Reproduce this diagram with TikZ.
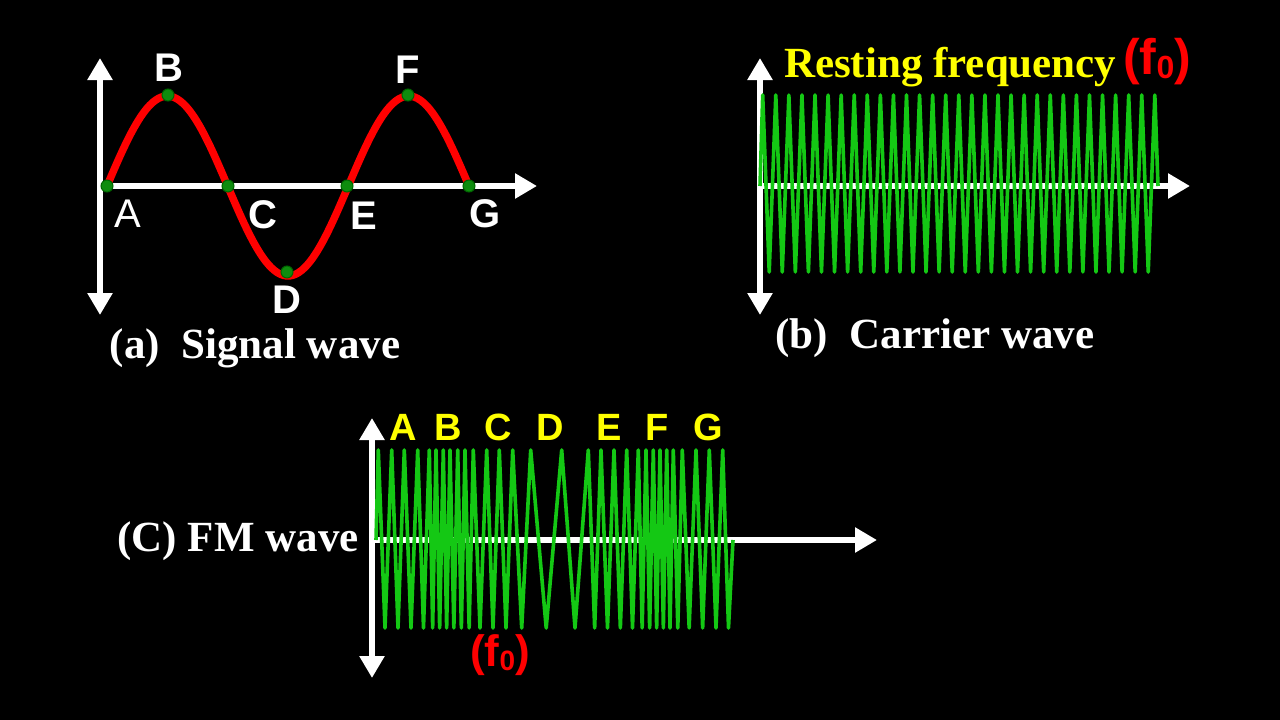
\documentclass[tikz,border=0pt]{standalone}
\usepackage{fontspec}
\setmainfont{Liberation Serif}
\setsansfont{Liberation Sans}
\usetikzlibrary{arrows.meta}
\definecolor{wgreen}{RGB}{20,200,20}
\definecolor{wyellow}{RGB}{255,255,0}
\definecolor{wred}{RGB}{255,0,0}
\begin{document}
\begin{tikzpicture}[x=1pt,y=-1pt,
  axis/.style={white,line width=5.5pt,-{Triangle[length=22pt,width=24pt]}},
  axis2/.style={white,line width=5.5pt,{Triangle[length=22pt,width=24pt]}-{Triangle[length=22pt,width=24pt]}},
  wave/.style={wgreen,line width=3.6pt,line join=round},
  pt/.style={circle,fill=wgreen!70!black,draw=black!60!green,line width=1pt,inner sep=0pt,minimum size=12pt},
  lab/.style={white,font=\sffamily\bfseries\fontsize{40}{40}\selectfont},
  flab/.style={wyellow,font=\sffamily\bfseries\fontsize{38}{38}\selectfont},
  captxt/.style={white,font=\bfseries\fontsize{43}{43}\selectfont},
  fo/.style={wred,font=\sffamily\bfseries\fontsize{50}{50}\selectfont}]
\fill[black] (0,0) rectangle (1280,720);
\useasboundingbox (0,0) rectangle (1280,720);
% (a) signal
\coordinate (aV1) at (100,315); \coordinate (aV2) at (100,58);
\coordinate (aO) at (100,186); \coordinate (aX) at (537,186);
\draw[axis2] (aV1) -- (aV2);
\draw[axis] (aO) -- (aX);
\draw[wred,line width=7.5pt,domain=107:469,samples=120,smooth] plot (\x,{186-90*sin(1.4919*(\x-107))});
\foreach \n/\x/\y in {A/107/186,B/168/95,C/228/186,D/287/272,E/347/186,F/408/95,G/469/186}
  \node[pt] (p\n) at (\x,\y) {};
\node[lab,font=\sffamily\fontsize{40}{40}\selectfont] (lA) at (128,214) {A};
\node[lab] (lB) at (169,68) {B};
\node[lab] (lC) at (263,215) {C};
\node[lab] (lD) at (287,300) {D};
\node[lab] (lE) at (364,216) {E};
\node[lab] (lF) at (408,70) {F};
\node[lab] (lG) at (485,214) {G};
\node[captxt] (capa) at (255,348) {(a)\enspace Signal wave};
% (b) carrier
\coordinate (bV1) at (760,315); \coordinate (bV2) at (760,58);
\coordinate (bO) at (760,186); \coordinate (bX) at (1190,186);
\draw[axis2] (bV1) -- (bV2);
\draw[axis] (bO) -- (bX);
\draw[wave] (760,186) -- (762.7,95) \foreach \k in {0,...,29}{ -- ({769.2+13.07*\k},272) -- ({775.8+13.07*\k},95)} -- (1158,186);
\node[wyellow,font=\bfseries\fontsize{43}{43}\selectfont,anchor=east] (rest) at (1120,67) {Resting frequency};
\node[fo,anchor=west,inner sep=1pt] (fb) at (1122,62) {(f\raisebox{-4pt}{\fontsize{32}{32}\selectfont 0})};
\node[captxt] (capb) at (935,338) {(b)\enspace Carrier wave};
% (C) FM
\coordinate (cV1) at (372,678); \coordinate (cV2) at (372,418);
\coordinate (cO) at (372,540); \coordinate (cX) at (877,540);
\draw[axis2] (cV1) -- (cV2);
\draw[axis] (cO) -- (cX);
\draw[wave] (376,540) -- (378.3,450)
  \foreach \p [remember=\p as \q (initially 378.3)] in {391.7,404.3,417.7,429.3,436,443.3,450,457.7,465,473.3,486.7,499.3,512.7,530.7,561.7,588.3,601,614,626.7,638.3,646,653.3,660,666.7,673.3,682.3,696,709.3,722.7}
  { -- ({(\p+\q)/2},628) -- (\p,450)} -- (728.5,628) -- (733,540);
\foreach \n/\x in {A/403,B/448,C/498,D/550,E/609,F/657,G/708}
  \node[flab] (f\n) at (\x,427) {\n};
\node[fo,font=\sffamily\bfseries\fontsize{44}{44}\selectfont] (fc) at (500,655) {(f\raisebox{-4pt}{\fontsize{28}{28}\selectfont 0})};
\node[captxt] (capc) at (238,541) {(C) FM wave};
\end{tikzpicture}
\end{document}
